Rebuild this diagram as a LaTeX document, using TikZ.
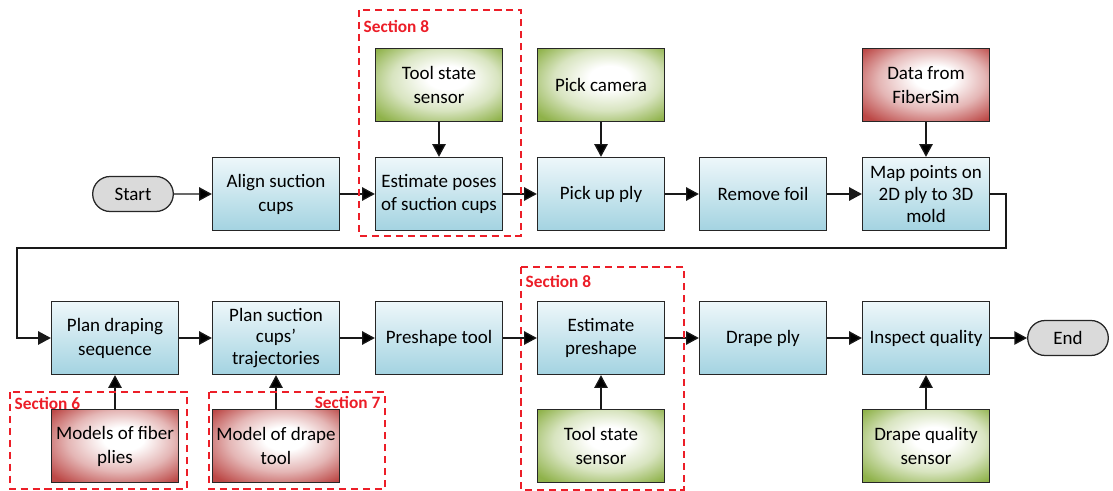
\documentclass[tikz,border=0pt]{standalone}
\usepackage{fontspec}
\setmainfont{Carlito}
\usetikzlibrary{arrows.meta,shapes.misc}

\definecolor{procTop}{RGB}{238,247,250}
\definecolor{procBot}{RGB}{163,211,225}
\definecolor{sensEdge}{RGB}{143,178,74}
\definecolor{dataEdge}{RGB}{188,72,70}
\definecolor{secRed}{RGB}{236,30,40}
\definecolor{termFill}{RGB}{218,218,218}

\pgfdeclareradialshading{sensglow}{\pgfpoint{4bp}{6bp}}{color(0bp)=(white); color(8bp)=(white); color(21bp)=(sensEdge!35); color(34bp)=(sensEdge); color(50bp)=(sensEdge)}
\pgfdeclareradialshading{dataglow}{\pgfpoint{4bp}{6bp}}{color(0bp)=(white); color(8bp)=(white); color(21bp)=(dataEdge!40); color(34bp)=(dataEdge); color(50bp)=(dataEdge)}

\begin{document}
\begin{tikzpicture}[x=0.025cm,y=-0.025cm]
        \tikzstyle{box}=[rectangle,draw=black!85,line width=0.9pt,minimum width=3.175cm,minimum height=1.825cm,inner sep=1pt,align=center,font=\fontsize{13.5}{17}\selectfont]
        \tikzstyle{process}=[box,top color=procTop,bottom color=procBot]
        \tikzstyle{sensor}=[box,shading=sensglow]
        \tikzstyle{data}=[box,shading=dataglow]
        \tikzstyle{terminal}=[rounded rectangle,draw=black!85,line width=0.9pt,fill=termFill,minimum width=2.25cm,minimum height=0.875cm,font=\fontsize{13.5}{17}\selectfont]
        \tikzstyle{flow}=[-{Triangle[length=9pt,width=9.5pt]},draw=black!90,line width=0.9pt]
        \tikzstyle{section}=[draw=secRed,line width=1pt,dash pattern=on 5pt off 3.5pt]
        \tikzstyle{seclabel}=[text=secRed,font=\fontsize{12.3}{14}\selectfont\bfseries,inner sep=1pt]

        \useasboundingbox (0,0) rectangle (1113,491);

        % top row
        \node [terminal] (start) at (133,194) {Start};
        \node [process] (align) at (276,194) {Align suction\\cups};
        \node [process] (estpose) at (439,194) {Estimate poses\\of suction cups};
        \node [process] (pickup) at (601,194) {Pick up ply};
        \node [process] (foil) at (763,194) {Remove foil};
        \node [process,font=\fontsize{13.5}{15.5}\selectfont] (mappts) at (926,194) {Map points on\\2D ply to 3D\\mold};

        \node [sensor] (toolsens) at (439,85) {Tool state\\sensor};
        \node [sensor] (pickcam) at (601,85) {Pick camera};
        \node [data] (fibersim) at (926,85) {Data from\\FiberSim};

        % bottom row
        \node [process] (planseq) at (115,338) {Plan draping\\sequence};
        \node [process,font=\fontsize{13.5}{15.5}\selectfont] (plantraj) at (276,338) {Plan suction\\cups’\\trajectories};
        \node [process] (preshape) at (439,338) {Preshape tool};
        \node [process] (estpre) at (601,338) {Estimate\\preshape};
        \node [process] (drape) at (763,338) {Drape ply};
        \node [process] (inspect) at (926,338) {Inspect quality};
        \node [terminal] (end) at (1068,338) {End};

        \node [data] (fibmodel) at (115,446) {Models of fiber\\plies};
        \node [data] (toolmodel) at (276,446) {Model of drape\\tool};
        \node [sensor] (toolsens2) at (601,446) {Tool state\\sensor};
        \node [sensor] (qualsens) at (926,446) {Drape quality\\sensor};

        \coordinate (turnR) at (1006,248);
        \coordinate (turnL) at (17,248);

        \path[flow] (start) edge (align) (align) edge (estpose) (estpose) edge (pickup)
                    (pickup) edge (foil);
        \path[flow] (planseq) edge (plantraj) (plantraj) edge (preshape) (preshape) edge (estpre)
                    (estpre) edge (drape) (drape) edge (inspect) (inspect) edge (end);
        \path[flow] (toolsens) edge (estpose) (pickcam) edge (pickup) (fibersim) edge (mappts);
        \path[flow] (fibmodel) edge (planseq) (toolmodel) edge (plantraj)
                    (toolsens2) edge (estpre) (qualsens) edge (inspect);
        \draw[flow] (foil) -- (mappts);
        \draw[flow] (mappts.east) -| (turnR) -- (turnL) |- (planseq.west);

        % sections
        \draw[section] (359,10) rectangle (521,236);
        \draw[section] (521,267) rectangle (684,490);
        \draw[section] (10,392) rectangle (187,489);
        \draw[section] (209,392) rectangle (385,489);
        \node [seclabel,anchor=west] (sec8a) at (362,26) {Section 8};
        \node [seclabel,anchor=west] (sec8b) at (524,281) {Section 8};
        \node [seclabel,anchor=west] (sec6) at (13,403) {Section 6};
        \node [seclabel,anchor=east] (sec7) at (382,402) {Section 7};
\end{tikzpicture}
\end{document}
